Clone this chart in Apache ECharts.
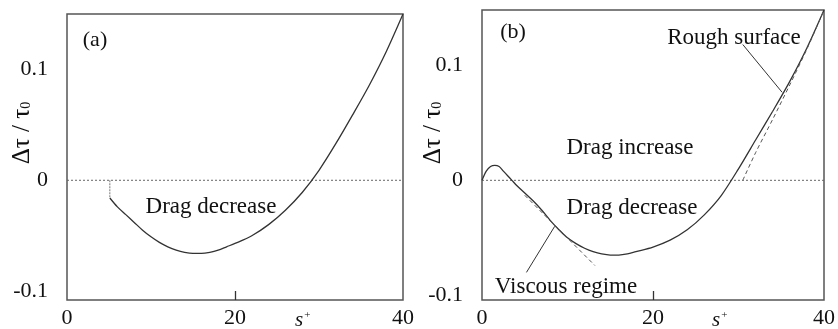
<!DOCTYPE html>
<html><head><meta charset="utf-8">
<script src="https://cdn.jsdelivr.net/npm/echarts@6/dist/echarts.min.js"></script>
<style>html,body{margin:0;padding:0;background:#fff}#c{width:838px;height:329px}</style>
</head><body><div id="c"></div>
<script>
// ---- data ----
const xTicks = [0, 20, 40];
const yTicks = [-0.1, 0, 0.1];
// panel (a)
const sA = [5.1, 6, 7, 8, 9, 10, 11, 12, 13, 14, 15, 16, 17, 18, 19, 20, 22, 24, 26, 28, 30, 32, 34, 36, 38, 40];
const dA = [-0.016, -0.024, -0.031, -0.038, -0.045, -0.051, -0.056, -0.060, -0.063, -0.065, -0.066, -0.066, -0.065, -0.063, -0.060, -0.057, -0.050, -0.040, -0.027, -0.011, 0.009, 0.033, 0.059, 0.086, 0.116, 0.15];
const stepA_s = [5.1, 5.1];
const stepA_d = [0, -0.016];
// panel (b)
const sB = [0, 0.5, 1, 1.5, 2, 2.5, 3, 3.5, 4, 5, 6, 7, 8, 9, 10, 11, 12, 13, 14, 15, 16, 17, 18, 20, 22, 24, 26, 28, 30, 32, 34, 36, 38, 40];
const dB = [0, 0.008, 0.012, 0.013, 0.012, 0.008, 0.004, 0, -0.004, -0.011, -0.018, -0.026, -0.035, -0.043, -0.050, -0.055, -0.059, -0.062, -0.064, -0.065, -0.065, -0.064, -0.062, -0.058, -0.052, -0.043, -0.030, -0.013, 0.010, 0.035, 0.060, 0.086, 0.115, 0.148];
const viscS = [5, 13.2];
const viscD = [-0.013, -0.074];
const roughS = [30.5, 32, 34, 36, 38, 40];
const roughD = [0, 0.024, 0.053, 0.083, 0.114, 0.148];
const roughLeadS = [30.5, 35.1];
const roughLeadD = [0.118, 0.0765];
const viscLeadS = [5.2, 8.5];
const viscLeadD = [-0.080, -0.040];
const zeroS = [0, 40];
const zeroD = [0, 0];

const pairs = (xs, ys) => xs.map((x, i) => [x, ys[i]]);
const FONT = "'Liberation Serif','Times New Roman',serif";
const TXT = '#111';
const LINE = '#333';

function xAx(gi) {
  return {
    gridIndex: gi, type: 'value', min: 0, max: 40,
    axisLine: {show: false, onZero: false}, splitLine: {show: false},
    axisTick: {show: true, inside: true, length: 9, customValues: [20], lineStyle: {color: LINE, width: 1.3}},
    axisLabel: {customValues: xTicks, margin: 7, fontFamily: FONT, fontSize: 22, color: TXT}
  };
}
function yAx(gi, mn, mx) {
  return {
    gridIndex: gi, type: 'value', min: mn, max: mx,
    axisLine: {show: false, onZero: false}, splitLine: {show: false}, axisTick: {show: false},
    axisLabel: {customValues: yTicks, margin: 19, fontFamily: FONT, fontSize: 22, color: TXT,
      formatter: v => (Math.abs(v) < 1e-9 ? '0' : String(Math.round(v * 10) / 10))}
  };
}
function ln(gi, data, opts) {
  return Object.assign({
    type: 'line', xAxisIndex: gi, yAxisIndex: gi, data: data, symbol: 'none', silent: true,
    lineStyle: {color: LINE, width: 1.3}
  }, opts || {});
}
function txt(x, y, s, size) {
  return {type: 'text', x: x, y: y, style: {text: s, fontFamily: FONT, fontSize: size || 23, fill: TXT, align: 'center', verticalAlign: 'middle'}};
}
function yname(x, y) {
  return {type: 'text', x: x, y: y, rotation: Math.PI / 2, style: {text: '{a|Δτ / τ}{b|0}', align: 'center', verticalAlign: 'middle', fontFamily: FONT, fill: TXT,
    rich: {a: {fontSize: 25, fontFamily: FONT, fill: TXT}, b: {fontSize: 14, fontFamily: FONT, fill: TXT, padding: [9, 0, 0, 0]}}}};
}
function sname(x, y) {
  return {type: 'text', x: x, y: y, style: {text: '{s|s}{p|+}', fontFamily: FONT, fill: TXT, verticalAlign: 'middle',
    rich: {s: {fontSize: 21, fontStyle: 'italic', fontFamily: FONT, fill: TXT}, p: {fontSize: 11, fontFamily: FONT, fill: TXT, verticalAlign: 'top', padding: [0, 0, 9, 1]}}}};
}

const chart = echarts.init(document.getElementById('c'), null, {renderer: 'canvas'});
chart.setOption({
  animation: false,
  backgroundColor: '#fff',
  grid: [
    {left: 67, right: 435, top: 14, bottom: 26, show: true, borderColor: '#555', borderWidth: 1.5},
    {left: 482, right: 13, top: 10, bottom: 26, show: true, borderColor: '#555', borderWidth: 1.5}
  ],
  xAxis: [xAx(0), xAx(1)],
  yAxis: [yAx(0, -0.108, 0.15), yAx(1, -0.104, 0.148)],
  series: [
    ln(0, pairs(zeroS, zeroD), {lineStyle: {color: '#666', width: 1, type: [2, 2]}}),
    ln(0, pairs(stepA_s, stepA_d), {lineStyle: {color: '#777', width: 1, type: [2, 1]}}),
    ln(0, pairs(sA, dA), {smooth: 0.3}),
    ln(1, pairs(zeroS, zeroD), {lineStyle: {color: '#666', width: 1, type: [2, 2]}}),
    ln(1, pairs(sB, dB), {smooth: 0.3}),
    ln(1, pairs(viscS, viscD), {lineStyle: {color: '#555', width: 1, type: [4, 3]}}),
    ln(1, pairs(roughS, roughD), {smooth: 0.3, lineStyle: {color: '#555', width: 1, type: [4, 3]}}),
    ln(1, pairs(roughLeadS, roughLeadD), {lineStyle: {color: LINE, width: 1}}),
    ln(1, pairs(viscLeadS, viscLeadD), {lineStyle: {color: LINE, width: 1}})
  ],
  graphic: [
    txt(95, 40, '(a)', 22),
    txt(513, 32, '(b)', 22),
    txt(211, 207, 'Drag decrease'),
    txt(630, 148, 'Drag increase'),
    txt(632, 208, 'Drag decrease'),
    txt(734, 38, 'Rough surface'),
    txt(566, 287, 'Viscous regime'),
    sname(295, 320),
    sname(712, 320),
    yname(22, 133),
    yname(433, 133)
  ]
});
</script></body></html>
